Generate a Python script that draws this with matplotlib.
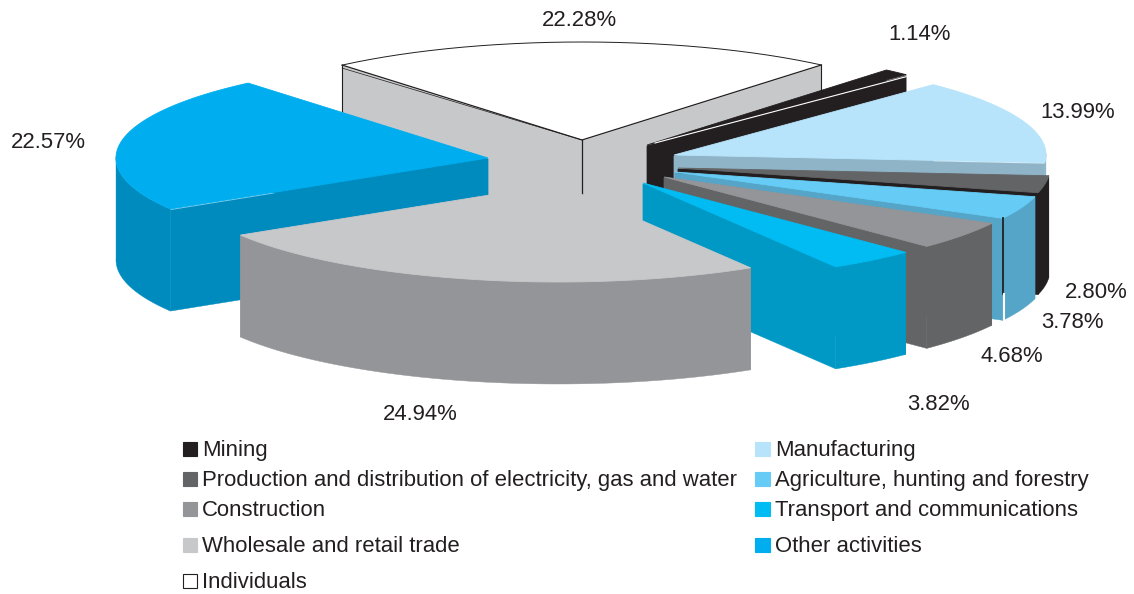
import matplotlib
matplotlib.use('Agg')
import matplotlib.pyplot as plt
from matplotlib.patches import Rectangle
import numpy as np

plt.rcParams['font.family'] = ['Liberation Sans', 'DejaVu Sans']

# clockwise from the upper left edge of Individuals
names = ['Individuals', 'Mining', 'Manufacturing',
         'Production and distribution of electricity, gas and water',
         'Agriculture, hunting and forestry', 'Construction',
         'Transport and communications', 'Wholesale and retail trade',
         'Other activities']
values = [22.28, 1.14, 13.99, 2.80, 3.78, 4.68, 3.82, 24.94, 22.57]
top_colors = ['#ffffff', '#231f20', '#b7e4fa', '#636466', '#66ccf5',
              '#939598', '#00bcf2', '#c7c8ca', '#00aeef']
wall_colors = ['#c7c8ca', '#231f20', '#8fb4c7', '#231f20', '#54a5c7',
               '#636466', '#0098c4', '#939598', '#008bbf']

# apex of every exploded slice, in pixels
apex_x = [582, 647, 674, 678, 675, 664, 643, 558, 488]
apex_y = [140, 145, 155, 168, 172, 177, 183, 184, 158]
draw_order = [0, 1, 2, 8, 3, 4, 5, 6, 7]

label_x = [579, 920, 1078, 1096, 1072, 1012, 939, 420, 48]
label_y = [20, 34, 113, 292, 322, 357, 405, 414, 142]

legend_rows = [456, 486, 516, 552, 588]
legend_left = ['Mining', names[3], 'Construction', names[7], 'Individuals']
legend_right = ['Manufacturing', names[4], names[6], names[8]]

RX = 372
RY = 98
DEPTH = 102
START = 130.15
INK = '#231f20'
FONT = 15.9

fig = plt.figure(figsize=(11.34, 5.94), dpi=100)
ax = fig.add_axes([0, 0, 1, 1])
ax.set_xlim(0, 1134)
ax.set_ylim(594, 0)
ax.axis('off')

angles = START - np.cumsum([0] + values) * 3.6


def arc(i):
    t = np.radians(np.linspace(angles[i], angles[i + 1], 150))
    return apex_x[i] + RX * np.cos(t), apex_y[i] - RY * np.sin(t), t


def draw_slice(i, z):
    x, y, t = arc(i)
    wall = wall_colors[i]
    # cut faces, a pixel under the top so no seam shows
    for k in (0, -1):
        ax.fill([apex_x[i], x[k], x[k], apex_x[i]],
                [apex_y[i] + 1, y[k] + 1, y[k] + DEPTH, apex_y[i] + DEPTH],
                facecolor=wall, edgecolor=wall, lw=0.3, zorder=z)
    # rim, only the part facing the viewer
    front = np.sin(t) < 0.02
    if front.any():
        ax.fill(np.r_[x[front], x[front][::-1]],
                np.r_[y[front], y[front][::-1] + DEPTH],
                facecolor=wall, edgecolor=wall, lw=0.3, zorder=z)
    top_edge = top_colors[i] if names[i] != 'Individuals' else 'none'
    ax.fill(np.r_[apex_x[i], x], np.r_[apex_y[i], y], facecolor=top_colors[i],
            edgecolor=top_edge, lw=0.6, zorder=z + 0.1)

    if names[i] == 'Individuals':
        ax.plot(np.r_[x[0], apex_x[i], x[-1]], np.r_[y[0], apex_y[i], y[-1]],
                color=INK, lw=0.9, zorder=z + 0.2)
        ax.plot(x, y, color=INK, lw=0.7, zorder=z + 0.2)
        ax.plot([x[0], apex_x[i]], [y[0] + 3, apex_y[i]], color=INK, lw=0.5, zorder=z + 0.2)
        ax.plot([x[0], x[0]], [y[0], y[0] + DEPTH], color=INK, lw=0.8, zorder=z + 0.2)
        ax.plot([x[-1], x[-1]], [y[-1], y[-1] + DEPTH], color=INK, lw=0.8, zorder=z + 0.2)
        ax.plot([apex_x[i], apex_x[i]], [apex_y[i], apex_y[i] + DEPTH],
                color=INK, lw=0.9, zorder=z + 0.2)
    if names[i] == 'Mining':
        ax.plot([apex_x[i] + 8, x[-1]], [apex_y[i] - 2, y[-1] + 2], color='white',
                lw=0.8, zorder=z + 0.2)
    if names[i].startswith('Agriculture'):
        ax.plot([x[-1], x[-1]], [y[-1], y[-1] + 76], color=INK, lw=1.3, zorder=z + 0.2)
        ax.plot([x[-1] + 1.5, x[-1] + 1.5], [y[-1] + 76, y[-1] + DEPTH], color='white',
                lw=1.5, zorder=z + 0.2)


for z, i in enumerate(draw_order):
    draw_slice(i, z + 1)

for i in range(len(values)):
    ax.text(label_x[i], label_y[i], '%.2f%%' % values[i], fontsize=FONT,
            ha='center', va='center', color=INK, zorder=20)

for row, name in zip(legend_rows, legend_left):
    c = top_colors[names.index(name)]
    edge = INK if name == 'Individuals' else c
    ax.add_patch(Rectangle((183, row - 14), 14, 14, facecolor=c, edgecolor=edge, lw=0.8))
    ax.text(202, row, name, fontsize=FONT, va='baseline', color=INK)

for row, name in zip(legend_rows, legend_right):
    c = top_colors[names.index(name)]
    ax.add_patch(Rectangle((755, row - 14), 15, 14, facecolor=c, edgecolor=c, lw=0.8))
    ax.text(775, row, name, fontsize=FONT, va='baseline', color=INK)

fig.savefig('out.png', dpi=100)
